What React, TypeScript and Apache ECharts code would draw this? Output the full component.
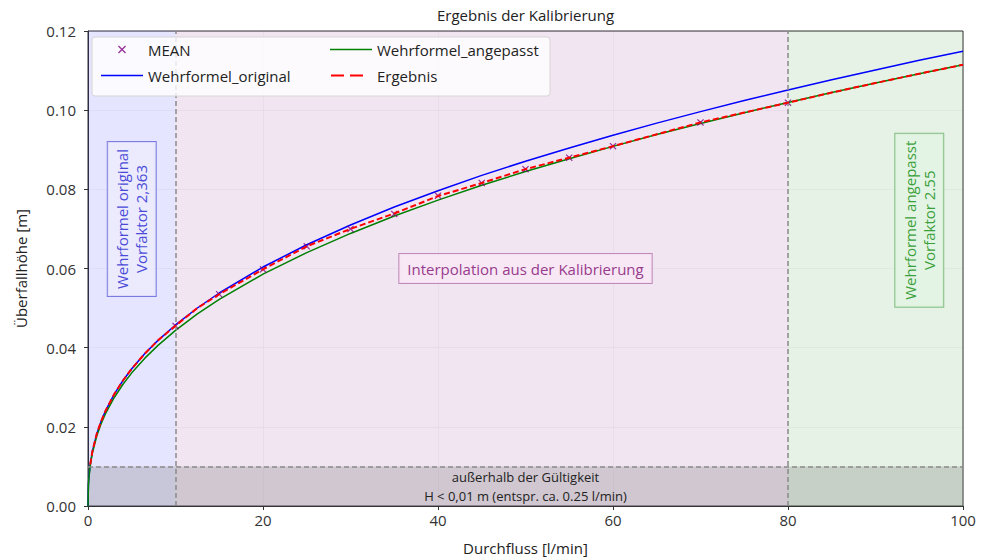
import React, { useEffect, useRef } from "react";
import * as echarts from "echarts";

// Durchfluss [l/min] sampling of the weir curves
const qCurve = [0, 0.05, 0.1, 0.25, 0.5, 1, 1.5, 2, 3, 4, 5, 6.5, 8, 10, 12.5, 15, 20, 25, 30, 35, 40, 45, 50, 55, 60, 65, 70, 75, 80, 85, 90, 95, 100];
const hOriginal = [0, 0.00549, 0.00725, 0.01046, 0.0138, 0.01822, 0.02142, 0.02403, 0.02827, 0.03171, 0.03468, 0.03851, 0.04184, 0.04574, 0.05002, 0.05381, 0.06037, 0.066, 0.07099, 0.07553, 0.07966, 0.08352, 0.08711, 0.09046, 0.09366, 0.09673, 0.09963, 0.10243, 0.1051, 0.10768, 0.11016, 0.11259, 0.11491];
const hAngepasst = [0, 0.00533, 0.00703, 0.01015, 0.01339, 0.01767, 0.02078, 0.02331, 0.02742, 0.03076, 0.03364, 0.03735, 0.04058, 0.04437, 0.04852, 0.0522, 0.05856, 0.06402, 0.06886, 0.07326, 0.07727, 0.08101, 0.0845, 0.08775, 0.09085, 0.09383, 0.09664, 0.09936, 0.10195, 0.10445, 0.10686, 0.10921, 0.11147];

// Kalibrierung: Mittelwerte
const qMean = [10, 15, 20, 25, 30, 35, 40, 45, 50, 55, 60, 70, 80];
const hMean = [0.0455, 0.0535, 0.0598, 0.0656, 0.07, 0.0738, 0.0784, 0.0816, 0.0851, 0.088, 0.0909, 0.0969, 0.1019];

// Ergebnis (interpoliert)
const qErgebnis = [0.25, 0.5, 1, 1.5, 2, 3, 4, 5, 6.5, 8, 10, 12.5, 15, 20, 25, 30, 35, 40, 45, 50, 55, 60, 65, 70, 75, 80, 85, 90, 95, 100];
const hErgebnis = [0.01046, 0.0138, 0.01822, 0.02142, 0.02403, 0.02827, 0.03171, 0.03468, 0.03851, 0.04184, 0.04555, 0.05, 0.0535, 0.0598, 0.0656, 0.07, 0.0739, 0.0783, 0.0816, 0.0851, 0.088, 0.0909, 0.0939, 0.0969, 0.0994, 0.1019, 0.10445, 0.10686, 0.10921, 0.11147];

// ranges
const xTicks = [0, 20, 40, 60, 80, 100];
const yTicks = [0, 0.02, 0.04, 0.06, 0.08, 0.1, 0.12];
const limitOriginal = 10;
const limitAngepasst = 80;
const hMin = 0.01;

const FONT = "'Open Sans', 'Noto Sans', sans-serif";
const FS = 15;
const X_PATH =
  "path://M0,1.2 L1.2,0 L5,3.8 L8.8,0 L10,1.2 L6.2,5 L10,8.8 L8.8,10 L5,6.2 L1.2,10 L0,8.8 L3.8,5 Z";
// legend icons: bounding box 42x8 (tiny corner specks), line in the middle
const CORNERS = "M0,0 L0.01,0 L0,0.01 Z M41.99,8 L42,8 L42,7.99 Z ";
const LINE_ICON = "path://" + CORNERS + "M0,3.2 L42,3.2 L42,4.8 L0,4.8 Z";
const DASH_ICON =
  "path://" + CORNERS + "M1,3 L14,3 L14,5 L1,5 Z M20,3 L33,3 L33,5 L20,5 Z";

const zip = (xs: number[], ys: number[]) => xs.map((x, i) => [x, ys[i]]);

export default function App() {
  const ref = useRef<HTMLDivElement>(null);

  useEffect(() => {
    if (!ref.current) return;
    const chart = echarts.init(ref.current, null, { renderer: "svg" });

    const legendText = { fontFamily: FONT, fontSize: FS, color: "#222" };

    const option: any = {
      animation: false,
      backgroundColor: "#ffffff",
      textStyle: { fontFamily: FONT },
      grid: {
        left: 88,
        right: 21,
        top: 31,
        bottom: 54,
        show: true,
        borderColor: "#333",
        borderWidth: 1,
        backgroundColor: "transparent",
      },
      legend: [
        {
          orient: "vertical",
          left: 96,
          top: 37,
          itemWidth: 42,
          itemHeight: 8,
          itemGap: 11,
          z: 10,
          textStyle: legendText,
          data: [
            { name: "MEAN" },
            { name: "Wehrformel_original", icon: LINE_ICON },
          ],
        },
        {
          orient: "vertical",
          left: 325,
          top: 37,
          itemWidth: 42,
          itemHeight: 8,
          itemGap: 11,
          z: 10,
          textStyle: legendText,
          data: [
            { name: "Wehrformel_angepasst", icon: LINE_ICON },
            { name: "Ergebnis", icon: DASH_ICON },
          ],
        },
      ],
      xAxis: {
        type: "value",
        min: xTicks[0],
        max: xTicks[xTicks.length - 1],
        interval: xTicks[1] - xTicks[0],
        name: "Durchfluss [l/min]",
        nameLocation: "middle",
        nameGap: 34,
        nameTextStyle: { fontFamily: FONT, fontSize: FS, color: "#222" },
        axisLine: { show: true, lineStyle: { color: "#333" } },
        axisTick: { show: true, length: 4, lineStyle: { color: "#333" } },
        axisLabel: { fontFamily: FONT, fontSize: FS, color: "#333", margin: 6 },
        splitLine: { show: true, lineStyle: { color: "rgba(0,0,0,0.03)" } },
      },
      yAxis: {
        type: "value",
        min: yTicks[0],
        max: yTicks[yTicks.length - 1],
        interval: 0.02,
        name: "Überfallhöhe [m]",
        nameLocation: "middle",
        nameGap: 60,
        nameTextStyle: { fontFamily: FONT, fontSize: FS, color: "#222" },
        axisLine: { show: true, lineStyle: { color: "#333" } },
        axisTick: { show: true, length: 4, lineStyle: { color: "#333" } },
        axisLabel: {
          fontFamily: FONT,
          fontSize: FS,
          color: "#333",
          margin: 12,
          formatter: (v: number) => v.toFixed(2),
        },
        splitLine: { show: true, lineStyle: { color: "rgba(0,0,0,0.03)" } },
      },
      series: [
        {
          name: "_bereiche",
          type: "line",
          data: [],
          silent: true,
          symbol: "none",
          markArea: {
            silent: true,
            data: [
              [{ xAxis: 0, itemStyle: { color: "rgba(0,0,255,0.1)" } }, { xAxis: limitOriginal }],
              [{ xAxis: limitOriginal, itemStyle: { color: "rgba(128,0,128,0.1)" } }, { xAxis: limitAngepasst }],
              [{ xAxis: limitAngepasst, itemStyle: { color: "rgba(0,128,0,0.1)" } }, { xAxis: 100 }],
              [{ xAxis: 0, yAxis: 0, itemStyle: { color: "rgba(128,128,128,0.3)" } }, { xAxis: 100, yAxis: hMin }],
            ],
          },
          markLine: {
            silent: true,
            symbol: "none",
            label: { show: false },
            lineStyle: { color: "#8a8a8a", type: [5, 3], width: 1.5 },
            data: [{ xAxis: limitOriginal }, { xAxis: limitAngepasst }, { yAxis: hMin }],
          },
        },
        {
          name: "Wehrformel_original",
          type: "line",
          data: zip(qCurve, hOriginal),
          showSymbol: false,
          symbol: "none",
          smooth: false,
          color: "#0000ff",
          lineStyle: { color: "#0000ff", width: 1.5 },
          z: 3,
        },
        {
          name: "Wehrformel_angepasst",
          type: "line",
          data: zip(qCurve, hAngepasst),
          showSymbol: false,
          symbol: "none",
          smooth: false,
          color: "#008000",
          lineStyle: { color: "#008000", width: 1.5 },
          z: 3,
        },
        {
          name: "MEAN",
          type: "scatter",
          data: zip(qMean, hMean),
          symbol: X_PATH,
          symbolSize: 7,
          color: "#800080",
          itemStyle: { color: "#800080" },
          z: 4,
        },
        {
          name: "Ergebnis",
          type: "line",
          data: zip(qErgebnis, hErgebnis),
          showSymbol: false,
          symbol: "none",
          smooth: false,
          color: "#ff0000",
          lineStyle: { color: "#ff0000", width: 2, type: [6, 3] },
          z: 5,
        },
      ],
    };

    chart.setOption(option);

    const px = (x: number, y: number) => chart.convertToPixel({ gridIndex: 0 }, [x, y]) as number[];
    const pLeft = px(5, 0.0725);
    const pMid = px(50, 0.06);
    const pRight = px(95, 0.0722);
    const pBottom1 = px(50, 0.0074);
    const pBottom2 = px(50, 0.0026);
    const pTitle = px(50, 0.12);

    chart.setOption({
      graphic: [
        {
          type: "text",
          z: 9,
          x: pTitle[0],
          y: 15,
          style: {
            text: "Ergebnis der Kalibrierung",
            fontFamily: FONT,
            fontSize: FS,
            fill: "#222",
            align: "center",
            verticalAlign: "middle",
          },
        },
        {
          type: "rect",
          z: 8,
          shape: { x: 92, y: 37, width: 458, height: 59, r: 3 },
          style: { fill: "rgba(255,255,255,0.8)", stroke: "#d6d6d6", lineWidth: 1 },
          silent: true,
        },
        {
          type: "text",
          z: 9,
          x: pLeft[0],
          y: pLeft[1],
          rotation: Math.PI / 2,
          style: {
            text: "Wehrformel original\nVorfaktor 2,363",
            fontFamily: FONT,
            fontSize: FS,
            lineHeight: 19,
            fill: "#4a4ad8",
            align: "center",
            verticalAlign: "middle",
            backgroundColor: "rgba(236,236,253,0.85)",
            borderColor: "#7c7ce0",
            borderWidth: 1,
            padding: [5, 7],
          },
        },
        {
          type: "text",
          z: 9,
          x: pRight[0],
          y: pRight[1],
          rotation: Math.PI / 2,
          style: {
            text: "Wehrformel angepasst\nVorfaktor 2.55",
            fontFamily: FONT,
            fontSize: FS,
            lineHeight: 19,
            fill: "#3aa03a",
            align: "center",
            verticalAlign: "middle",
            backgroundColor: "rgba(228,244,228,0.85)",
            borderColor: "#84c084",
            borderWidth: 1,
            padding: [5, 7],
          },
        },
        {
          type: "text",
          z: 9,
          x: pMid[0],
          y: pMid[1],
          style: {
            text: "Interpolation aus der Kalibrierung",
            fontFamily: FONT,
            fontSize: FS,
            fill: "#973b8c",
            align: "center",
            verticalAlign: "middle",
            backgroundColor: "rgba(248,232,246,0.9)",
            borderColor: "#c08ab8",
            borderWidth: 1,
            padding: [7, 8],
          },
        },
        {
          type: "text",
          z: 9,
          x: pBottom1[0],
          y: pBottom1[1],
          style: {
            text: "außerhalb der Gültigkeit",
            fontFamily: FONT,
            fontSize: 13,
            fill: "#222",
            align: "center",
            verticalAlign: "middle",
          },
        },
        {
          type: "text",
          z: 9,
          x: pBottom2[0],
          y: pBottom2[1],
          style: {
            text: "H < 0,01 m (entspr. ca. 0.25 l/min)",
            fontFamily: FONT,
            fontSize: 13,
            fill: "#222",
            align: "center",
            verticalAlign: "middle",
          },
        },
      ],
    });

    return () => chart.dispose();
  }, []);

  return <div ref={ref} style={{ width: 984, height: 560, position: "absolute", left: 0, top: 0 }} />;
}
